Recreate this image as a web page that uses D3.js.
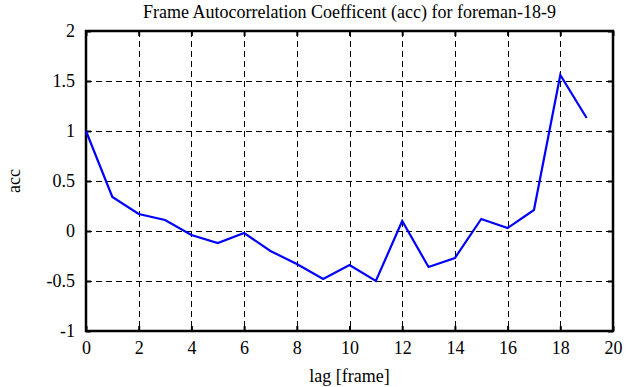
<!DOCTYPE html>
<html>
<head>
<meta charset="utf-8">
<script src="https://cdn.jsdelivr.net/npm/d3@7"></script>
<style>
  body { margin: 0; background: #fff; }
</style>
</head>
<body>
<svg id="chart" width="635" height="387" font-family="Liberation Serif"></svg>
<script>
// lag values and autocorrelation
var lags = [0, 1, 2, 3, 4, 5, 6, 7, 8, 9, 10, 11, 12, 13, 14, 15, 16, 17, 18, 19];
var acc = [1.0, 0.34, 0.17, 0.11, -0.04, -0.12, -0.02, -0.2, -0.33, -0.48,
           -0.34, -0.5, 0.1, -0.36, -0.27, 0.12, 0.03, 0.21, 1.56, 1.13];
var xTicks = [0, 2, 4, 6, 8, 10, 12, 14, 16, 18, 20];
var yTicks = [-1, -0.5, 0, 0.5, 1, 1.5, 2];

var FONT = "Liberation Serif";
var svg = d3.select("#chart");
var margin = {left: 86, right: 22, top: 31, bottom: 56};
var W = 635, H = 387;

var x = d3.scaleLinear().domain([0, 20]).range([margin.left, W - margin.right]);
var y = d3.scaleLinear().domain([-1, 2]).range([H - margin.bottom, margin.top]);

// dashed grid
var grid = svg.append("g");
grid.selectAll(".gx")
    .data(xTicks.slice(1, -1))
    .enter().append("line")
    .attr("x1", function(d) { return Math.round(x(d)) + 0.5; })
    .attr("x2", function(d) { return Math.round(x(d)) + 0.5; })
    .attr("y1", y(2)).attr("y2", y(-1))
    .attr("stroke", "#000").attr("stroke-dasharray", "6,4");
grid.selectAll(".gy")
    .data(yTicks.slice(1, -1))
    .enter().append("line")
    .attr("y1", function(d) { return Math.round(y(d)) + 0.5; })
    .attr("y2", function(d) { return Math.round(y(d)) + 0.5; })
    .attr("x1", x(0)).attr("x2", x(20))
    .attr("stroke", "#000").attr("stroke-dasharray", "6,4");

// axes with inward ticks
var fmt = function(d) { return String(d); };
var axBottom = svg.append("g")
    .attr("transform", "translate(0," + y(-1) + ")")
    .call(d3.axisBottom(x).tickValues(xTicks).tickSizeInner(-5).tickSizeOuter(0).tickPadding(10).tickFormat(fmt));
var axTop = svg.append("g")
    .attr("transform", "translate(0," + y(2) + ")")
    .call(d3.axisTop(x).tickValues(xTicks).tickSizeInner(-5).tickSizeOuter(0).tickFormat(""));
var axLeft = svg.append("g")
    .attr("transform", "translate(" + x(0) + ",0)")
    .call(d3.axisLeft(y).tickValues(yTicks).tickSizeInner(-5).tickSizeOuter(0).tickPadding(11).tickFormat(fmt));
var axRight = svg.append("g")
    .attr("transform", "translate(" + x(20) + ",0)")
    .call(d3.axisRight(y).tickValues(yTicks).tickSizeInner(-5).tickSizeOuter(0).tickFormat(""));

[axBottom, axTop, axLeft, axRight].forEach(function(a) {
    a.attr("font-family", FONT).attr("font-size", 18);
    a.select(".domain").remove();
    a.selectAll("line").attr("stroke", "#000").attr("stroke-width", 2);
    a.selectAll("text").attr("fill", "#000");
});

// frame
svg.append("rect")
    .attr("x", x(0)).attr("y", y(2))
    .attr("width", x(20) - x(0)).attr("height", y(-1) - y(2))
    .attr("fill", "none").attr("stroke", "#000").attr("stroke-width", 2.5);

// data line
var line = d3.line()
    .x(function(d, i) { return x(lags[i]); })
    .y(function(d) { return y(d); });
svg.append("path")
    .datum(acc)
    .attr("d", line)
    .attr("fill", "none")
    .attr("stroke", "#0000ff")
    .attr("stroke-width", 2.2);

// labels
svg.append("text")
    .attr("x", (x(0) + x(20)) / 2).attr("y", 18)
    .attr("text-anchor", "middle").attr("font-size", 18).attr("font-family", FONT)
    .text("Frame Autocorrelation Coefficent (acc) for foreman-18-9");
svg.append("text")
    .attr("x", (x(0) + x(20)) / 2).attr("y", 382)
    .attr("text-anchor", "middle").attr("font-size", 18).attr("font-family", FONT)
    .text("lag [frame]");
svg.append("text")
    .attr("transform", "translate(20," + y(0.5) + ") rotate(-90)")
    .attr("text-anchor", "middle").attr("font-size", 18).attr("font-family", FONT)
    .text("acc");
</script>
</body>
</html>
